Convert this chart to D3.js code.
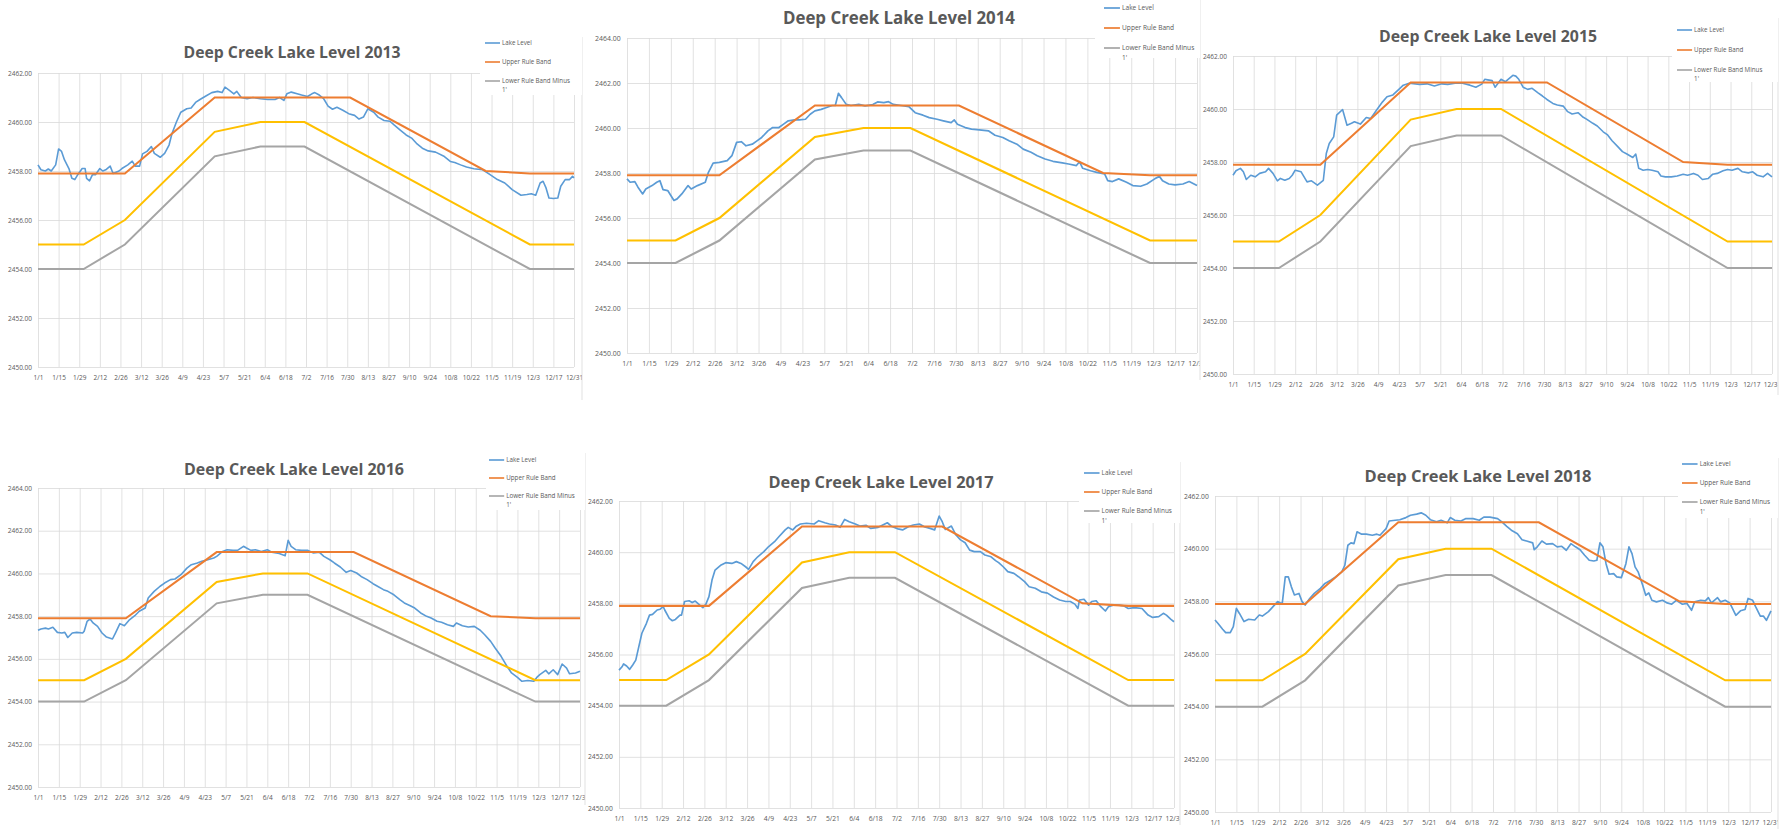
<!DOCTYPE html>
<html>
<head>
<meta charset="utf-8">
<script src="https://cdn.jsdelivr.net/npm/d3@7"></script>
<style>
body { margin: 0; background: #fff; }
svg { display: block; }
text { font-family: "Open Sans", "Noto Sans", sans-serif; }
</style>
</head>
<body>
<svg id="chart" width="1789" height="829"></svg>
<script>
// x axis: one tick every 14 days, day 0 = Jan 1
let dateLabels = ["1/1","1/15","1/29","2/12","2/26","3/12","3/26","4/9","4/23","5/7","5/21","6/4","6/18",
                  "7/2","7/16","7/30","8/13","8/27","9/10","9/24","10/8","10/22","11/5","11/19","12/3","12/17","12/31"];
let tickDays = dateLabels.map((d, i) => i * 14);

let legendNames = ["Lake Level", "Upper Rule Band", "Lower Rule Band Minus"];

// rule bands, [day, elevation]
let upperBand = [[0,2457.9],[59,2457.9],[120,2461],[212,2461],[304,2458],[334,2457.9],[364,2457.9]];
let lowerBand = [[0,2455],[31,2455],[59,2456],[120,2459.6],[151,2460],[181,2460],[334,2455],[364,2455]];
let lowerMinus1 = [[0,2454],[31,2454],[59,2455],[120,2458.6],[151,2459],[181,2459],[334,2454],[364,2454]];

// lake level, [day, elevation]
let lake2013 = [[0,2458.25],[2,2458.05],[5,2458.0],[7,2458.08],[9,2458.0],[12,2458.25],[14,2458.9],[16,2458.8],[18,2458.45],[21,2458.1],[23,2457.7],[25,2457.65],[27,2457.85],[30,2458.1],[32,2458.1],[33,2457.7],[35,2457.6],[37,2457.85],[39,2457.85],[42,2458.1],[44,2458.0],[46,2458.05],[49,2458.2],[51,2457.9],[55,2458.0],[57,2458.1],[61,2458.25],[64,2458.4],[66,2458.2],[69,2458.2],[71,2458.7],[74,2458.8],[77,2459.0],[79,2458.72],[83,2458.56],[86,2458.72],[89,2459.06],[91,2459.53],[94,2460.0],[97,2460.4],[101,2460.54],[104,2460.57],[107,2460.8],[110,2460.92],[114,2461.06],[118,2461.2],[122,2461.25],[125,2461.2],[127,2461.42],[130,2461.29],[133,2461.15],[135,2461.25],[138,2461.0],[142,2460.95],[146,2461.0],[151,2460.95],[156,2460.92],[161,2460.92],[164,2461.0],[167,2460.88],[169,2461.15],[172,2461.22],[176,2461.15],[179,2461.1],[183,2461.04],[186,2461.15],[188,2461.2],[191,2461.1],[194,2460.95],[197,2460.65],[200,2460.52],[203,2460.6],[207,2460.48],[211,2460.34],[215,2460.27],[218,2460.12],[221,2460.2],[224,2460.54],[228,2460.4],[231,2460.2],[235,2460.06],[239,2460.03],[242,2459.87],[246,2459.67],[250,2459.47],[254,2459.33],[257,2459.13],[261,2458.93],[265,2458.82],[270,2458.77],[276,2458.59],[280,2458.39],[283,2458.35],[287,2458.25],[291,2458.16],[296,2458.09],[302,2458.05],[307,2457.85],[312,2457.65],[317,2457.51],[322,2457.24],[328,2457.01],[332,2457.04],[335,2457.07],[338,2457.01],[341,2457.51],[343,2457.58],[345,2457.31],[347,2456.9],[350,2456.88],[353,2456.9],[355,2457.38],[358,2457.65],[361,2457.65],[363,2457.78],[364,2457.72]];
let lake2014 = [[0,2457.74],[2,2457.59],[5,2457.62],[7,2457.37],[10,2457.07],[12,2457.29],[16,2457.44],[19,2457.59],[21,2457.66],[23,2457.26],[26,2457.22],[28,2457.0],[30,2456.78],[32,2456.85],[35,2457.07],[39,2457.44],[41,2457.29],[45,2457.44],[50,2457.59],[52,2458.03],[55,2458.44],[59,2458.47],[64,2458.55],[67,2458.77],[70,2459.36],[73,2459.39],[76,2459.21],[80,2459.28],[83,2459.43],[86,2459.58],[90,2459.87],[93,2460.02],[97,2460.02],[100,2460.17],[103,2460.32],[107,2460.36],[110,2460.36],[114,2460.39],[117,2460.61],[120,2460.76],[124,2460.83],[127,2460.9],[131,2461.0],[133,2461.0],[135,2461.54],[137,2461.35],[140,2461.05],[143,2461.0],[148,2461.05],[152,2460.98],[157,2461.04],[160,2461.16],[164,2461.13],[167,2461.17],[170,2461.05],[175,2461.0],[180,2460.95],[184,2460.68],[189,2460.57],[193,2460.46],[198,2460.39],[202,2460.32],[207,2460.24],[209,2460.36],[211,2460.17],[216,2460.02],[220,2459.95],[225,2459.92],[231,2459.87],[235,2459.68],[240,2459.58],[244,2459.43],[249,2459.28],[253,2459.06],[258,2458.92],[262,2458.77],[267,2458.62],[272,2458.52],[278,2458.45],[282,2458.4],[287,2458.33],[289,2458.5],[291,2458.21],[296,2458.1],[300,2458.03],[305,2457.96],[307,2457.66],[310,2457.62],[314,2457.74],[319,2457.59],[323,2457.44],[328,2457.41],[332,2457.51],[337,2457.74],[340,2457.85],[342,2457.66],[346,2457.51],[350,2457.47],[355,2457.51],[359,2457.62],[364,2457.44]];
let lake2015 = [[0,2457.5],[2,2457.67],[5,2457.76],[7,2457.63],[9,2457.34],[12,2457.5],[15,2457.44],[18,2457.57],[22,2457.63],[24,2457.76],[27,2457.57],[30,2457.29],[32,2457.38],[35,2457.31],[38,2457.38],[40,2457.5],[42,2457.69],[46,2457.63],[48,2457.44],[50,2457.25],[53,2457.29],[57,2457.13],[61,2457.31],[63,2458.32],[65,2458.7],[68,2458.95],[70,2459.77],[74,2459.98],[77,2459.39],[80,2459.46],[82,2459.52],[86,2459.43],[90,2459.68],[93,2459.64],[97,2459.96],[101,2460.27],[104,2460.46],[108,2460.53],[112,2460.74],[115,2460.9],[119,2460.97],[126,2460.93],[131,2460.95],[136,2460.87],[141,2460.95],[145,2460.93],[150,2460.97],[155,2460.97],[160,2460.9],[164,2460.82],[168,2460.94],[170,2461.12],[172,2461.1],[175,2461.07],[177,2460.82],[181,2461.12],[184,2461.03],[189,2461.27],[191,2461.24],[193,2461.12],[196,2460.82],[199,2460.74],[202,2460.78],[206,2460.61],[209,2460.49],[212,2460.36],[216,2460.21],[219,2460.15],[223,2460.11],[226,2459.9],[229,2459.81],[233,2459.86],[236,2459.71],[239,2459.61],[243,2459.46],[246,2459.36],[250,2459.14],[253,2459.02],[256,2458.8],[260,2458.57],[263,2458.39],[266,2458.3],[270,2458.17],[272,2458.3],[274,2457.76],[277,2457.69],[280,2457.72],[283,2457.69],[287,2457.63],[289,2457.47],[292,2457.44],[296,2457.44],[300,2457.47],[304,2457.54],[307,2457.5],[311,2457.57],[314,2457.5],[317,2457.34],[321,2457.38],[324,2457.54],[327,2457.57],[331,2457.67],[334,2457.72],[337,2457.69],[341,2457.76],[344,2457.63],[348,2457.59],[351,2457.63],[354,2457.5],[358,2457.44],[361,2457.57],[364,2457.44]];
let lake2016 = [[0,2457.34],[2,2457.4],[5,2457.44],[7,2457.4],[10,2457.48],[13,2457.24],[16,2457.21],[18,2457.24],[20,2457.0],[23,2457.21],[26,2457.24],[30,2457.21],[31,2457.29],[33,2457.76],[35,2457.87],[37,2457.68],[40,2457.52],[43,2457.21],[46,2457.02],[50,2456.93],[52,2457.21],[55,2457.65],[58,2457.55],[61,2457.8],[65,2458.02],[68,2458.23],[72,2458.38],[74,2458.85],[78,2459.16],[82,2459.4],[85,2459.55],[89,2459.71],[92,2459.74],[96,2459.94],[100,2460.25],[103,2460.41],[107,2460.49],[110,2460.57],[114,2460.64],[118,2460.72],[120,2460.8],[124,2461.03],[127,2461.11],[131,2461.08],[134,2461.08],[138,2461.27],[140,2461.19],[143,2461.08],[146,2461.11],[150,2461.03],[154,2461.11],[157,2460.99],[162,2460.93],[166,2460.83],[168,2461.55],[170,2461.27],[173,2461.11],[177,2461.08],[181,2461.08],[185,2460.96],[189,2460.99],[192,2460.8],[196,2460.64],[199,2460.49],[203,2460.3],[207,2460.05],[210,2460.14],[214,2460.02],[217,2459.86],[221,2459.71],[225,2459.52],[228,2459.4],[232,2459.24],[235,2459.16],[239,2459.0],[243,2458.77],[246,2458.62],[250,2458.49],[253,2458.38],[257,2458.15],[261,2457.99],[264,2457.91],[268,2457.76],[271,2457.71],[275,2457.6],[279,2457.52],[281,2457.68],[285,2457.55],[289,2457.49],[293,2457.52],[297,2457.34],[300,2457.13],[304,2456.82],[307,2456.51],[311,2456.12],[315,2455.65],[318,2455.34],[322,2455.13],[325,2454.95],[329,2454.99],[333,2454.95],[335,2455.13],[337,2455.26],[341,2455.46],[343,2455.3],[346,2455.49],[349,2455.26],[352,2455.76],[355,2455.57],[357,2455.3],[361,2455.34],[364,2455.42]];
let lake2017 = [[0,2455.39],[2,2455.52],[3,2455.63],[5,2455.55],[7,2455.42],[9,2455.59],[11,2455.78],[13,2456.31],[15,2456.83],[18,2457.22],[20,2457.54],[22,2457.57],[25,2457.74],[27,2457.77],[29,2457.87],[30,2457.74],[33,2457.41],[35,2457.32],[37,2457.37],[40,2457.54],[41,2457.54],[43,2458.07],[46,2458.1],[48,2458.03],[50,2458.09],[53,2457.93],[55,2457.83],[57,2457.97],[59,2458.26],[61,2458.91],[63,2459.3],[67,2459.5],[70,2459.59],[74,2459.56],[77,2459.63],[80,2459.56],[83,2459.43],[85,2459.33],[88,2459.63],[91,2459.82],[95,2460.02],[98,2460.21],[102,2460.41],[105,2460.61],[109,2460.87],[111,2460.97],[114,2460.87],[116,2461.0],[119,2461.1],[123,2461.13],[128,2461.1],[131,2461.23],[135,2461.15],[138,2461.1],[142,2461.06],[145,2460.97],[148,2461.28],[151,2461.19],[155,2461.1],[158,2461.02],[162,2461.05],[165,2460.93],[170,2460.97],[173,2461.06],[176,2461.15],[179,2461.0],[183,2460.91],[186,2460.87],[190,2461.0],[193,2461.06],[197,2461.1],[200,2461.0],[204,2460.93],[207,2460.87],[210,2461.41],[212,2461.19],[214,2460.89],[218,2461.02],[221,2460.67],[224,2460.48],[227,2460.37],[230,2460.08],[233,2460.02],[237,2460.02],[240,2459.89],[244,2459.82],[247,2459.67],[249,2459.59],[252,2459.43],[255,2459.24],[259,2459.17],[262,2459.04],[266,2458.85],[269,2458.65],[273,2458.59],[277,2458.45],[281,2458.4],[285,2458.25],[289,2458.13],[293,2458.07],[296,2458.07],[299,2457.97],[301,2457.8],[302,2458.13],[305,2458.16],[308,2457.93],[310,2458.07],[313,2458.1],[316,2457.87],[319,2457.7],[321,2457.87],[324,2457.93],[328,2457.93],[331,2457.9],[334,2457.8],[338,2457.83],[343,2457.8],[347,2457.54],[350,2457.45],[354,2457.48],[357,2457.61],[359,2457.54],[362,2457.37],[364,2457.28]];
let lake2018 = [[0,2457.29],[2,2457.16],[5,2456.94],[7,2456.81],[10,2456.81],[12,2457.04],[14,2457.73],[16,2457.54],[19,2457.23],[22,2457.32],[26,2457.29],[29,2457.48],[31,2457.44],[35,2457.61],[38,2457.8],[41,2457.99],[44,2457.9],[46,2458.93],[48,2458.93],[50,2458.55],[52,2458.24],[55,2458.3],[57,2457.99],[59,2457.86],[62,2458.11],[65,2458.3],[69,2458.49],[72,2458.68],[76,2458.81],[79,2458.93],[83,2459.12],[85,2459.37],[87,2460.13],[89,2460.22],[91,2460.19],[93,2460.64],[96,2460.55],[99,2460.55],[103,2460.51],[106,2460.55],[108,2460.51],[112,2460.76],[114,2461.05],[118,2461.08],[121,2461.1],[125,2461.18],[128,2461.27],[132,2461.31],[135,2461.36],[138,2461.27],[141,2461.1],[145,2461.02],[148,2461.08],[152,2460.98],[154,2461.18],[157,2461.08],[161,2461.05],[164,2461.14],[169,2461.14],[173,2461.08],[176,2461.2],[180,2461.2],[185,2461.14],[188,2461.01],[191,2460.85],[194,2460.7],[198,2460.57],[201,2460.34],[204,2460.29],[208,2460.22],[209,2459.96],[211,2460.07],[214,2460.29],[217,2460.17],[221,2460.19],[224,2460.07],[227,2460.09],[230,2459.94],[233,2460.19],[236,2460.07],[239,2459.96],[242,2459.75],[245,2459.56],[248,2459.53],[250,2459.56],[252,2460.22],[254,2460.07],[256,2459.43],[258,2459.03],[261,2459.05],[263,2458.93],[266,2458.9],[269,2459.43],[271,2460.07],[273,2459.81],[275,2459.31],[277,2459.12],[280,2458.61],[282,2458.23],[284,2458.32],[286,2458.04],[289,2457.98],[293,2458.04],[296,2457.94],[299,2457.89],[302,2458.04],[306,2457.89],[309,2457.92],[312,2457.66],[314,2457.98],[318,2458.04],[321,2458.02],[323,2458.14],[325,2457.94],[329,2458.14],[331,2457.98],[334,2458.04],[337,2457.94],[341,2457.47],[344,2457.64],[347,2457.69],[349,2458.11],[352,2458.04],[354,2457.79],[357,2457.44],[359,2457.44],[361,2457.28],[364,2457.64]];

let colors = { lake: "#5B9BD5", upper: "#ED7D31", lower: "#FFC000", minus: "#A5A5A5", grid: "#D9D9D9", text: "#595959" };

// where each year's chart sits on the page
let panels = [
  { year: 2013, lake: lake2013, yMax: 2462, x0: 38,   x1: 574,  yTop: 73,  yBot: 367, titleX: 292,  titleY: 52,  titleW: 217, legX: 485,  legY: 43,  legGap: 19, box: [480, 30, 102, 65],  border: [582, 37, 400] },
  { year: 2014, lake: lake2014, yMax: 2464, x0: 627,  x1: 1197, yTop: 38,  yBot: 353, titleX: 899,  titleY: 18,  titleW: 232, legX: 1104, legY: 8,   legGap: 20, box: [1095, 0, 105, 58],  border: [1200, 0, 380] },
  { year: 2015, lake: lake2015, yMax: 2462, x0: 1233, x1: 1772, yTop: 56,  yBot: 374, titleX: 1488, titleY: 36,  titleW: 218, legX: 1677, legY: 30,  legGap: 20, box: [1672, 16, 106, 66], border: [1778, 18, 395] },
  { year: 2016, lake: lake2016, yMax: 2464, x0: 38,   x1: 580,  yTop: 488, yBot: 787, titleX: 294,  titleY: 469, titleW: 220, legX: 489,  legY: 460, legGap: 18, box: [486, 446, 99, 64],  border: [585, 453, 805] },
  { year: 2017, lake: lake2017, yMax: 2462, x0: 619,  x1: 1174, yTop: 501, yBot: 808, titleX: 881,  titleY: 482, titleW: 225, legX: 1084, legY: 473, legGap: 19, box: [1079, 460, 101, 63], border: [1180, 462, 825] },
  { year: 2018, lake: lake2018, yMax: 2462, x0: 1215, x1: 1771, yTop: 496, yBot: 812, titleX: 1478, titleY: 476, titleW: 227, legX: 1682, legY: 464, legGap: 19, box: [1678, 452, 100, 66], border: [1778, 458, 829] }
];

let svg = d3.select("#chart");

panels.forEach((p, pi) => {
  let s = (p.x1 - p.x0) / 536;
  let x = d3.scaleLinear().domain([0, 364]).range([p.x0, p.x1]);
  let y = d3.scaleLinear().domain([2450, p.yMax]).range([p.yBot, p.yTop]);
  let yTicks = d3.range(2450, p.yMax + 1, 2);

  let g = svg.append("g");

  // clip the date labels at the chart's right border (page coordinates)
  svg.append("clipPath").attr("id", "clip" + pi)
     .append("rect")
     .attr("x", p.x0 - 40).attr("y", p.yTop - 40)
     .attr("width", p.border[0] - p.x0 + 40).attr("height", p.yBot - p.yTop + 80);

  // horizontal gridlines + y labels
  let yAxis = d3.axisLeft(y)
      .tickValues(yTicks)
      .tickSize(-(p.x1 - p.x0))
      .tickPadding(6 * s)
      .tickFormat(d3.format(".2f"));
  let yg = g.append("g").attr("transform", `translate(${p.x0},0)`).call(yAxis);

  // vertical gridlines + date labels
  let xAxis = d3.axisBottom(x)
      .tickValues(tickDays)
      .tickSize(-(p.yBot - p.yTop))
      .tickPadding(8 * s)
      .tickFormat((d, i) => dateLabels[i]);
  let xg = g.append("g").attr("clip-path", `url(#clip${pi})`)
      .append("g").attr("transform", `translate(0,${p.yBot})`)
      .call(xAxis);

  [yg, xg].forEach(ax => {
    ax.select(".domain").remove();
    ax.selectAll(".tick line").attr("stroke", colors.grid).attr("stroke-width", 0.8);
    ax.selectAll(".tick text").attr("fill", colors.text)
      .style("font-size", (6.5 * s) + "px");
  });

  // right border of the chart
  g.append("line")
   .attr("x1", p.border[0]).attr("x2", p.border[0])
   .attr("y1", p.border[1]).attr("y2", p.border[2])
   .attr("stroke", colors.grid).attr("stroke-width", 0.8);

  // legend sits on a white box over the plot
  g.append("rect")
   .attr("x", p.box[0]).attr("y", p.box[1])
   .attr("width", p.box[2]).attr("height", p.box[3])
   .attr("fill", "#fff");

  let line = d3.line().x(d => x(d[0])).y(d => y(d[1]));

  g.append("path").datum(p.lake)
   .attr("d", line).attr("fill", "none")
   .attr("stroke", colors.lake).attr("stroke-width", 1.6 * s).attr("stroke-linejoin", "round");
  g.append("path").datum(upperBand)
   .attr("d", line).attr("fill", "none")
   .attr("stroke", colors.upper).attr("stroke-width", 2 * s);
  g.append("path").datum(lowerBand)
   .attr("d", line).attr("fill", "none")
   .attr("stroke", colors.lower).attr("stroke-width", 2 * s);
  g.append("path").datum(lowerMinus1)
   .attr("d", line).attr("fill", "none")
   .attr("stroke", colors.minus).attr("stroke-width", 2 * s);

  // title
  g.append("text")
   .attr("x", p.titleX).attr("y", p.titleY)
   .attr("dy", "0.36em")
   .attr("text-anchor", "middle")
   .attr("fill", colors.text)
   .attr("textLength", p.titleW)
   .attr("lengthAdjust", "spacingAndGlyphs")
   .style("font-size", (16 * s) + "px")
   .style("font-weight", "bold")
   .text("Deep Creek Lake Level " + p.year);

  // legend
  let legColors = [colors.lake, colors.upper, colors.minus];
  legendNames.forEach((name, i) => {
    let ly = p.legY + i * p.legGap;
    g.append("line")
     .attr("x1", p.legX).attr("x2", p.legX + 15 * s)
     .attr("y1", ly).attr("y2", ly)
     .attr("stroke", legColors[i]).attr("stroke-width", 1.6 * s);
    g.append("text")
     .attr("x", p.legX + 17 * s).attr("y", ly)
     .attr("dy", "0.35em")
     .attr("fill", colors.text)
     .style("font-size", (6.2 * s) + "px")
     .text(name);
  });
  g.append("text")
   .attr("x", p.legX + 17 * s).attr("y", p.legY + 2 * p.legGap + 9 * s)
   .attr("dy", "0.35em")
   .attr("fill", colors.text)
   .style("font-size", (6.2 * s) + "px")
   .text("1'");
});
</script>
</body>
</html>
